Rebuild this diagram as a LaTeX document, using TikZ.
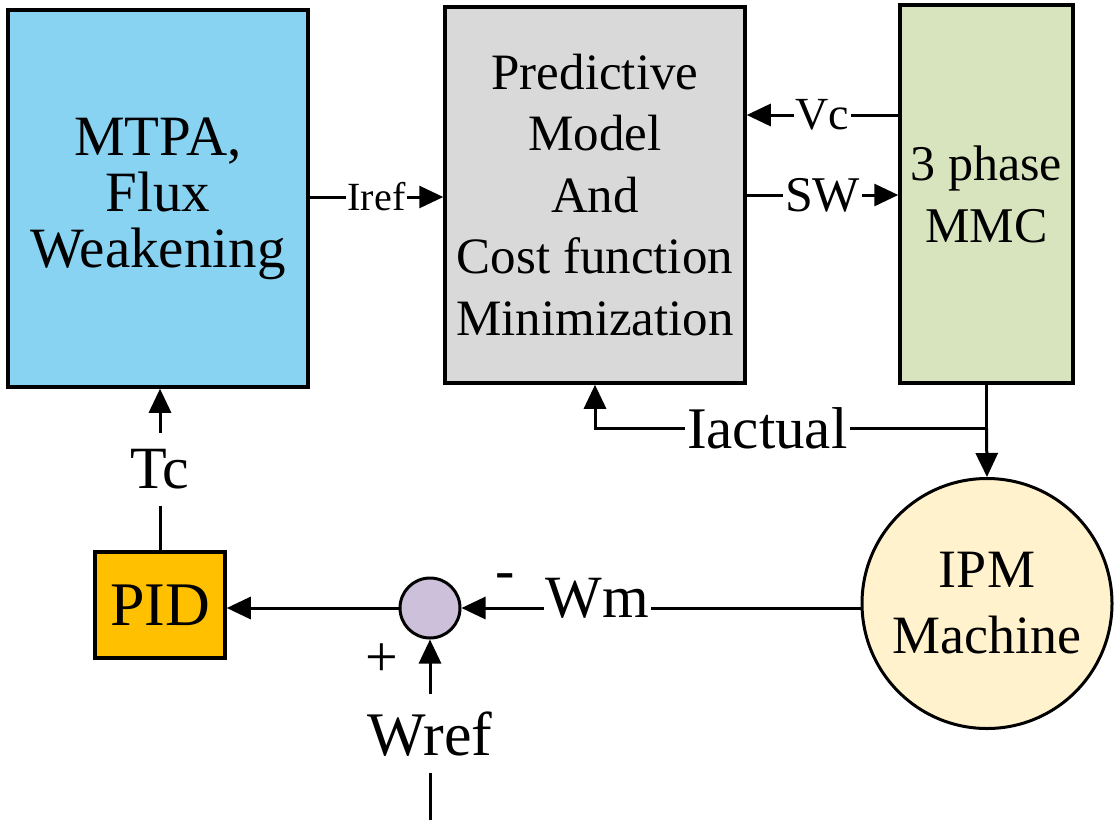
\documentclass[tikz,border=0pt]{standalone}
\usepackage{fontspec}
\setmainfont{LiberationSerif}[Extension=.ttf, UprightFont=*-Regular, BoldFont=*-Bold]
\usetikzlibrary{arrows.meta}
\definecolor{mtpablue}{RGB}{137,211,242}
\definecolor{predgray}{RGB}{217,217,217}
\definecolor{mmcgreen}{RGB}{215,228,189}
\definecolor{pidorange}{RGB}{255,192,0}
\definecolor{ipmyellow}{RGB}{255,242,204}
\definecolor{sumlav}{RGB}{204,192,218}
\newcommand{\myfs}[2]{\fontsize{#1}{#2}\selectfont}
\begin{document}
\begin{tikzpicture}[x=1pt,y=-1pt,
  blk/.style={draw=black, line width=3.5pt, rectangle, inner sep=0pt, align=center},
  rnd/.style={draw=black, line width=3pt, circle, inner sep=0pt, align=center},
  arr/.style={line width=3pt, -{Triangle[length=24pt,width=22pt]}},
  ln/.style={line width=3pt},
  hlbl/.style={fill=white, inner xsep=2pt, inner ysep=1pt},
  vlbl/.style={fill=white, inner xsep=1pt, inner ysep=17pt}]
\useasboundingbox[fill=white] (0,0) rectangle (1116,820);

% blocks
\node[blk, fill=mtpablue, minimum width=300pt, minimum height=377pt,
      font=\myfs{57}{56}] (mtpa) at (158,198.5) {MTPA,\\Flux\\Weakening};
\node[blk, fill=predgray, minimum width=300pt, minimum height=376pt,
      font=\myfs{51}{61.5}] (pred) at (595,195)
      {Predictive\\Model\\And\\Cost function\\Minimization};
\node[blk, fill=mmcgreen, minimum width=173pt, minimum height=378pt,
      font=\myfs{50}{62}] (mmc) at (986.5,194) {3 phase\\MMC};
\node[blk, fill=pidorange, minimum width=130pt, minimum height=106pt,
      font=\myfs{62}{62}] (pid) at (160,605) {PID};
\node[rnd, fill=ipmyellow, minimum size=250pt, font=\myfs{54}{66}]
      (ipm) at (987,603.5) {IPM\\Machine};
\node[rnd, fill=sumlav, minimum size=60pt] (sum) at (430,608) {};

% signs
\node[font=\myfs{58}{58}, inner sep=0pt] (minus) at (505,582) {-};
\node[font=\myfs{58}{58}, inner sep=0pt] (plus) at (382,660) {+};

% connectors
\draw[arr] (mtpa.east |- 0,197) -- node[hlbl, font=\myfs{40}{40}] {Iref} (pred.west |- 0,197);
\draw[arr] (mmc.west |- 0,115) -- node[hlbl, font=\myfs{46}{46}] {Vc} (pred.east |- 0,115);
\draw[arr] (pred.east |- 0,195) -- node[hlbl, font=\myfs{50}{50}] {SW} (mmc.west |- 0,195);

\coordinate (j) at (mmc.south |- 0,428);
\coordinate (c1) at (pred.south |- 0,428);
\draw[ln] (mmc.south) -- (j);
\draw[arr] (j) -- (ipm.north);
\draw[arr] (j) -- node[hlbl, pos=0.56, font=\myfs{59}{59}] {Iactual} (c1) -- (pred.south);

\draw[arr] (ipm.west |- sum) -- node[hlbl, pos=0.66, yshift=10pt, font=\myfs{60}{60}] {Wm} (sum.east);
\draw[arr] (sum.west) -- (sum.west -| pid.east);
\draw[arr] (pid.north) -- node[vlbl, font=\myfs{60}{60}] {Tc} (pid.north |- mtpa.south);

\coordinate (w0) at (430,820);
\draw[arr] (w0) -- node[vlbl, pos=0.478, font=\myfs{62}{62}] {Wref} (sum.south);
\end{tikzpicture}
\end{document}
